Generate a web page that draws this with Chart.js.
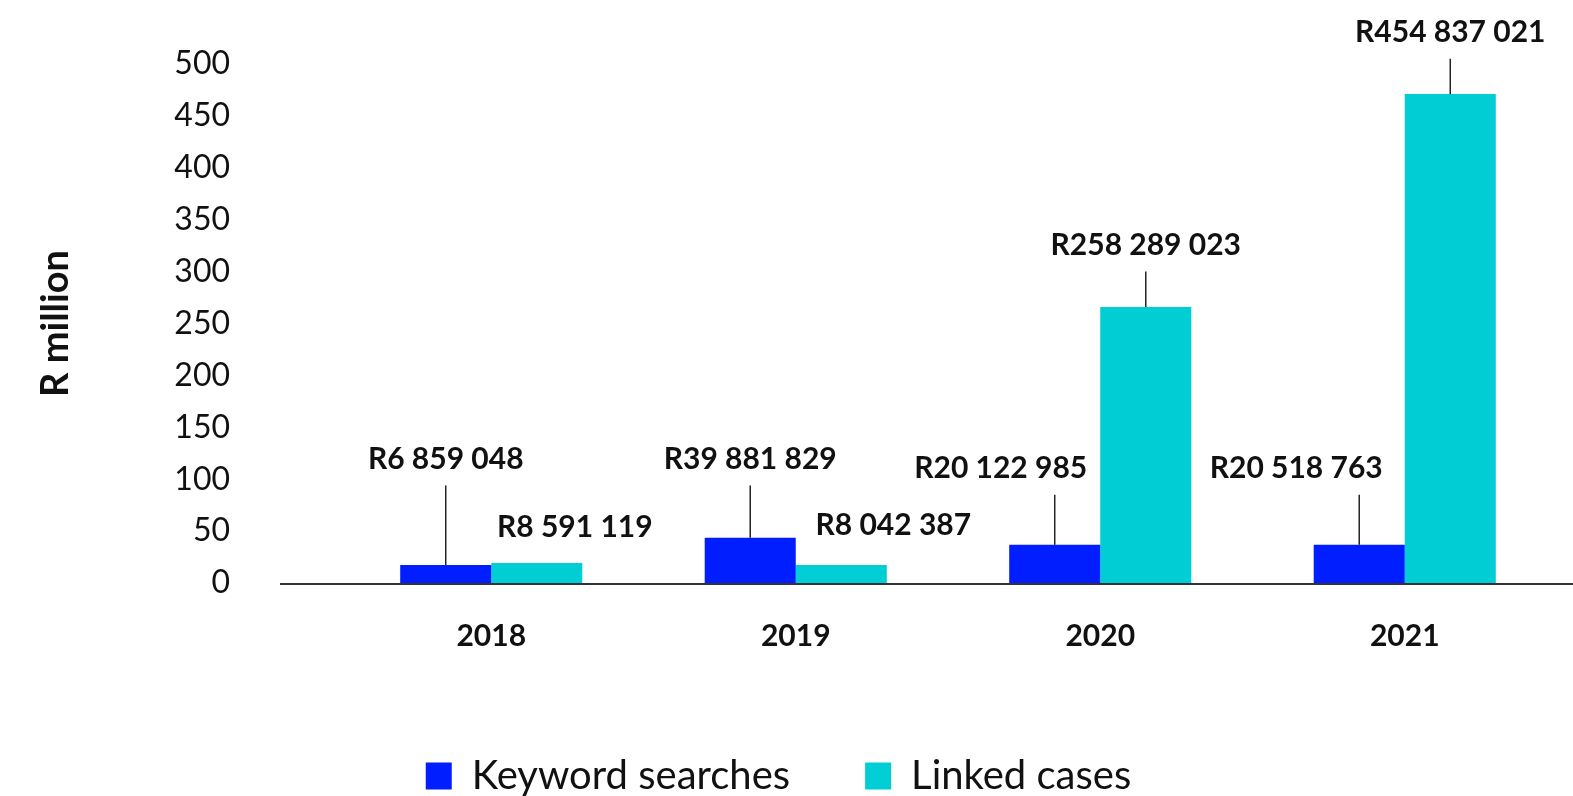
<!DOCTYPE html>
<html>
<head>
<meta charset="utf-8">
<script src="https://cdn.jsdelivr.net/npm/chart.js@4.4.1/dist/chart.umd.min.js"></script>
<style>
  html, body { margin: 0; padding: 0; background: #ffffff; }
  #wrap { width: 1573px; height: 796px; position: relative; }
</style>
</head>
<body>
<div id="wrap"><canvas id="c"></canvas></div>
<script>
// ---- Data (values in R million) ----
const years = ['2018', '2019', '2020', '2021'];
const keywordSearches = [17.4, 43.5, 36.8, 36.8];
const linkedCases = [19.3, 17.4, 266, 471];
const keywordLabels = ['R6 859 048', 'R39 881 829', 'R20 122 985', 'R20 518 763'];
const linkedLabels = ['R8 591 119', 'R8 042 387', 'R258 289 023', 'R454 837 021'];
const yTicks = [0, 50, 100, 150, 200, 250, 300, 350, 400, 450, 500];

// ---- Annotation layout (label anchor level in axis units, leader flag, x shift) ----
const keywordLabelLevel = [94, 94, 85, 85];
const keywordLeader = [true, true, true, true];
const keywordShift = [0, 0, -54, -63];
const linkedLabelLevel = [54, 56, 300, 505];
const linkedLeader = [false, false, true, true];
const linkedShift = [38, 52, 0, 0];

const FONT = 'Lato, "Open Sans", sans-serif';
const labelCfg = [
  { text: keywordLabels, level: keywordLabelLevel, leader: keywordLeader, shift: keywordShift },
  { text: linkedLabels, level: linkedLabelLevel, leader: linkedLeader, shift: linkedShift }
];

const baselinePlugin = {
  id: 'baseline',
  beforeDatasetsDraw(chart) {
    const { ctx, scales: { y } } = chart;
    const y0 = y.getPixelForValue(0);
    ctx.save();
    ctx.strokeStyle = '#333333';
    ctx.lineWidth = 2;
    ctx.beginPath();
    ctx.moveTo(280, y0 + 1);
    ctx.lineTo(chart.width, y0 + 1);
    ctx.stroke();
    ctx.restore();
  }
};

const barLabelPlugin = {
  id: 'barLabels',
  afterDatasetsDraw(chart) {
    const { ctx, scales: { y } } = chart;
    ctx.save();
    ctx.font = 'bold 30px ' + FONT;
    ctx.textAlign = 'center';
    ctx.textBaseline = 'middle';
    chart.data.datasets.forEach((ds, di) => {
      const meta = chart.getDatasetMeta(di);
      const cfg = labelCfg[di];
      meta.data.forEach((bar, i) => {
        const anchorY = y.getPixelForValue(cfg.level[i]);
        const x = bar.x;
        let textY = anchorY;
        if (cfg.leader[i]) {
          ctx.strokeStyle = '#222222';
          ctx.lineWidth = 1.5;
          ctx.beginPath();
          ctx.moveTo(x, bar.y);
          ctx.lineTo(x, anchorY);
          ctx.stroke();
          textY = anchorY - 26;
        }
        ctx.fillStyle = '#111111';
        ctx.fillText(cfg.text[i], x + cfg.shift[i], textY);
      });
    });
    ctx.restore();
  }
};

new Chart(document.getElementById('c'), {
  type: 'bar',
  data: {
    labels: years,
    datasets: [
      { label: 'Keyword searches', data: keywordSearches, backgroundColor: '#001EFF', borderWidth: 0,
        categoryPercentage: 0.598, barPercentage: 1.0 },
      { label: 'Linked cases', data: linkedCases, backgroundColor: '#00CED4', borderWidth: 0,
        categoryPercentage: 0.598, barPercentage: 1.0 }
    ]
  },
  options: {
    responsive: true,
    maintainAspectRatio: false,
    animation: false,
    layout: { padding: { top: 64, left: 0, right: 16, bottom: -10 } },
    plugins: {
      legend: {
        position: 'bottom',
        labels: {
          font: { family: FONT, size: 40 },
          color: '#111111',
          boxWidth: 26,
          boxHeight: 27,
          padding: 75
        }
      },
      tooltip: { enabled: false }
    },
    scales: {
      x: {
        grid: { display: false, drawTicks: false },
        border: { display: false },
        ticks: { font: { family: FONT, size: 30, weight: 'bold' }, color: '#111111', padding: 35 },
        afterFit(s) { s.height = 98; }
      },
      y: {
        min: 0,
        max: 500,
        grid: { display: false, drawTicks: false },
        border: { display: false },
        afterBuildTicks(s) { s.ticks = yTicks.map(v => ({ value: v })); },
        ticks: { font: { family: FONT, size: 32 }, color: '#111111', padding: 109 },
        title: {
          display: true,
          text: 'R million',
          font: { family: FONT, size: 38, weight: 'bold' },
          color: '#111111',
          padding: { top: 33, bottom: 0 }
        },
        afterFit(s) { s.width = 339; s.paddingTop = 0; s.paddingBottom = 0; }
      }
    }
  },
  plugins: [baselinePlugin, barLabelPlugin]
});
</script>
</body>
</html>
